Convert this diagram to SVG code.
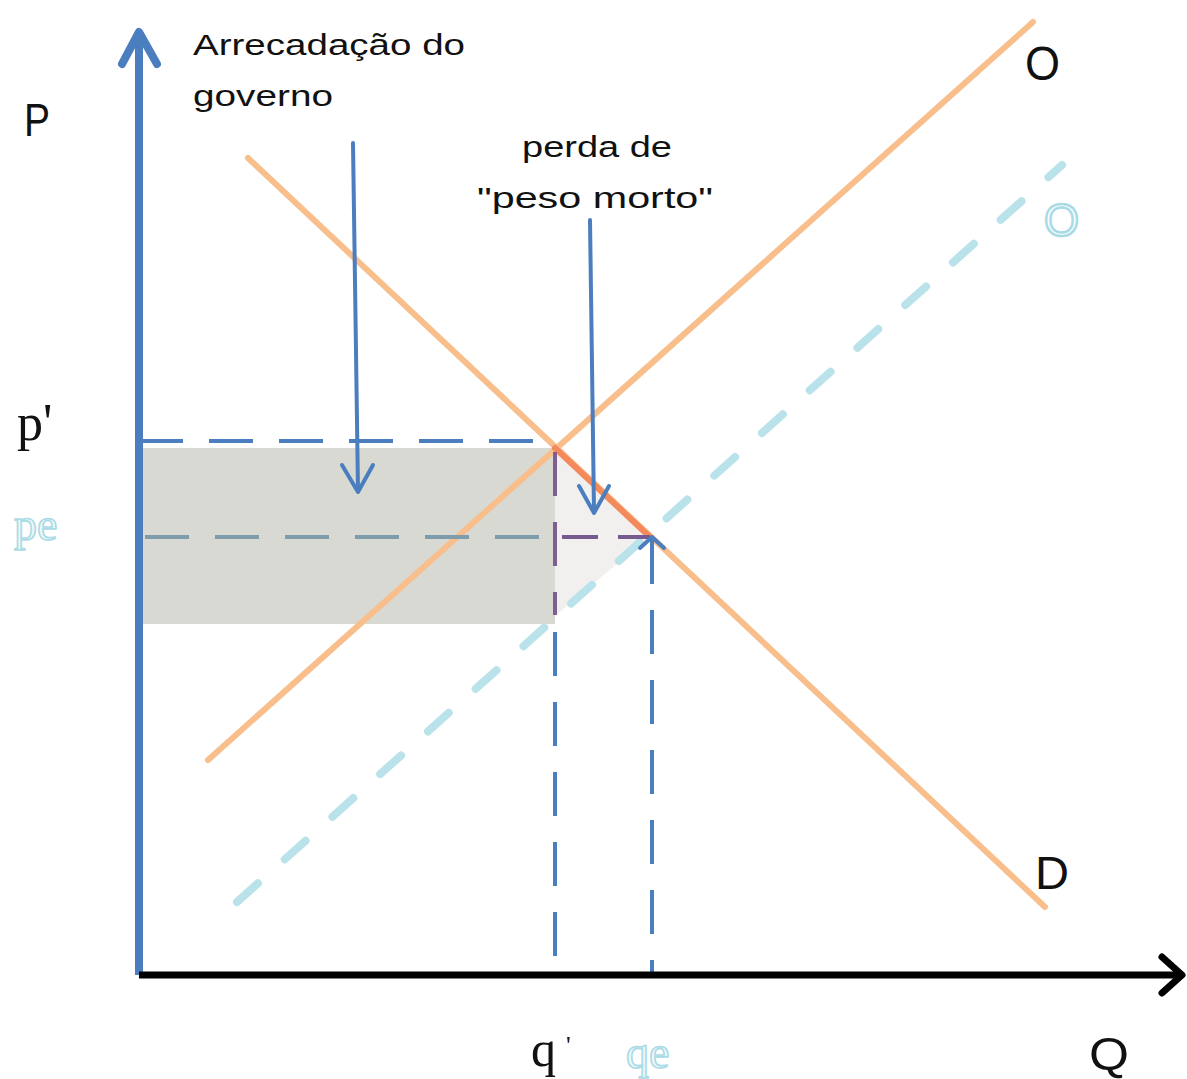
<svg xmlns="http://www.w3.org/2000/svg" width="1187" height="1079" viewBox="0 0 1187 1079">
<style>
.lbl{font-family:"Liberation Sans","Open Sans",sans-serif;fill:#111}
.ser{font-family:"Liberation Serif",serif;fill:#111}
.lb{font-family:"Liberation Serif",serif;fill:#eef8fa;stroke:#a9dbe6;stroke-width:1.6}
.sup{stroke:#f8bf8c;stroke-width:6;stroke-linecap:round;fill:none}
.sup2{stroke:#b9e2eb;stroke-width:8;stroke-linecap:round;fill:none;stroke-dasharray:28 36}
.dashb{stroke:#4a7ebf;stroke-width:4;fill:none;stroke-dasharray:44 26}
.arr{stroke:#4a7ebf;stroke-width:4;fill:none;stroke-linecap:round;stroke-linejoin:round}
</style>
<rect width="1187" height="1079" fill="#ffffff"/>
<g id="areas">
<rect x="139" y="448" width="416" height="176" fill="#d9d9d4"/>
<polygon points="555,448 650,536 555,616" fill="#f2f0ef"/>
</g>
<g id="connectors">
<line class="sup2" x1="237" y1="902" x2="1062" y2="165"/>
<line class="sup" x1="208" y1="760" x2="1033" y2="22"/>
<line class="sup" x1="248" y1="158" x2="1045" y2="907"/>
<line x1="555" y1="448" x2="650" y2="537" stroke="#f4895c" stroke-width="6" stroke-linecap="round"/>
<line class="dashb" x1="139" y1="441" x2="555" y2="441"/>
<line x1="145" y1="537" x2="555" y2="537" stroke="#7f9caa" stroke-width="4" stroke-dasharray="44 26"/>
<line x1="562" y1="537" x2="650" y2="537" stroke="#76598e" stroke-width="4" stroke-dasharray="36 20"/>
<line x1="555" y1="452" x2="555" y2="615" stroke="#7d5f92" stroke-width="4" stroke-dasharray="44 26"/>
<line x1="555" y1="632" x2="555" y2="975" stroke="#4a7ebf" stroke-width="4" stroke-dasharray="44 26"/>
<line class="dashb" x1="652" y1="540" x2="652" y2="975"/>
<polyline class="arr" points="640,548 652,537 664,548"/>
<line class="arr" x1="353" y1="143" x2="358" y2="490"/>
<polyline class="arr" points="342,465 358,492 373,465"/>
<line class="arr" x1="590" y1="220" x2="594" y2="510"/>
<polyline class="arr" points="579,486 594,513 609,486"/>
</g>
<g id="axes">
<line x1="139" y1="975" x2="139" y2="34" stroke="#4a7ebf" stroke-width="8"/>
<polyline points="122,64 139,32 157,64" fill="none" stroke="#4a7ebf" stroke-width="8" stroke-linecap="round" stroke-linejoin="round"/>
<line x1="139" y1="975" x2="1180" y2="975" stroke="#000" stroke-width="7"/>
<polyline points="1162,957 1182,975 1162,993" fill="none" stroke="#000" stroke-width="7" stroke-linecap="round" stroke-linejoin="round"/>
</g>
<g id="labels">
<text class="lbl" x="24" y="136" font-size="46" textLength="26" lengthAdjust="spacingAndGlyphs">P</text>
<text class="lbl" x="193" y="55" font-size="30" textLength="272" lengthAdjust="spacingAndGlyphs">Arrecadação do</text>
<text class="lbl" x="193" y="106" font-size="30" textLength="140" lengthAdjust="spacingAndGlyphs">governo</text>
<text class="lbl" x="522" y="157" font-size="30" textLength="150" lengthAdjust="spacingAndGlyphs">perda de</text>
<text class="lbl" x="477" y="208" font-size="30" textLength="236" lengthAdjust="spacingAndGlyphs">"peso morto"</text>
<text class="lbl" x="1025" y="80" font-size="48" textLength="35" lengthAdjust="spacingAndGlyphs">O</text>
<text class="lbl" x="1044" y="236" font-size="46" textLength="35" lengthAdjust="spacingAndGlyphs" style="fill:#ffffff;stroke:#a9dbe6;stroke-width:2.5">O</text>
<text class="lbl" x="1035" y="889" font-size="46" textLength="34" lengthAdjust="spacingAndGlyphs">D</text>
<text class="lbl" x="1089" y="1070" font-size="46" textLength="40" lengthAdjust="spacingAndGlyphs">Q</text>
<text class="ser" x="17" y="440" font-size="52">p'</text>
<text class="lb" x="14" y="540" font-size="46">pe</text>
<text class="ser" x="531" y="1066" font-size="50">q</text>
<text class="ser" x="566" y="1054" font-size="26">'</text>
<text class="lb" x="626" y="1068" font-size="46">qe</text>
</g>
</svg>
